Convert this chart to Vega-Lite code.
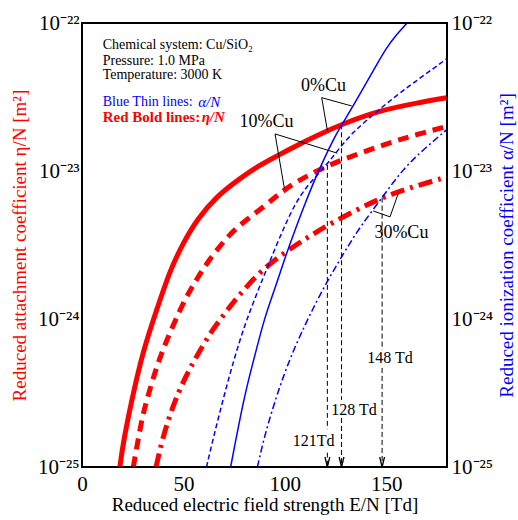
{
  "$schema": "https://vega.github.io/schema/vega-lite/v6.json",
  "width": 365,
  "height": 444,
  "autosize": {"type": "none"},
  "padding": {"left": 82, "top": 23, "right": 71, "bottom": 53},
  "background": "white",
  "config": {
    "font": "Liberation Serif",
    "view": {"stroke": "black", "strokeWidth": 2},
    "axis": {"domain": false, "grid": false, "ticks": false, "labelColor": "black", "labelFont": "Liberation Serif", "titleFont": "Liberation Serif", "titleFontWeight": "normal", "titleColor": "black"}
  },
  "datasets": {
    "curves": [
      {"s": "eta0", "x": 18.7, "y": 1.0e-25}, {"s": "eta0", "x": 20, "y": 1.38e-25}, {"s": "eta0", "x": 24.5, "y": 2.84e-25}, {"s": "eta0", "x": 30.2, "y": 6.17e-25}, {"s": "eta0", "x": 36.8, "y": 1.15e-24}, {"s": "eta0", "x": 43.4, "y": 2.14e-24}, {"s": "eta0", "x": 49.8, "y": 3.24e-24}, {"s": "eta0", "x": 56.6, "y": 4.68e-24}, {"s": "eta0", "x": 66.4, "y": 6.76e-24}, {"s": "eta0", "x": 77.9, "y": 8.91e-24}, {"s": "eta0", "x": 87.8, "y": 1.10e-23}, {"s": "eta0", "x": 96, "y": 1.26e-23}, {"s": "eta0", "x": 104.2, "y": 1.45e-23}, {"s": "eta0", "x": 116, "y": 1.74e-23}, {"s": "eta0", "x": 128, "y": 2.07e-23}, {"s": "eta0", "x": 147, "y": 2.57e-23}, {"s": "eta0", "x": 165, "y": 2.88e-23}, {"s": "eta0", "x": 180, "y": 3.13e-23},
      {"s": "eta10", "x": 25.3, "y": 1.0e-25}, {"s": "eta10", "x": 29.4, "y": 2.09e-25}, {"s": "eta10", "x": 31.9, "y": 2.82e-25}, {"s": "eta10", "x": 36.8, "y": 4.79e-25}, {"s": "eta10", "x": 41.8, "y": 7.24e-25}, {"s": "eta10", "x": 50, "y": 1.30e-24}, {"s": "eta10", "x": 54.9, "y": 1.70e-24}, {"s": "eta10", "x": 61.5, "y": 2.40e-24}, {"s": "eta10", "x": 73, "y": 3.80e-24}, {"s": "eta10", "x": 81.2, "y": 4.68e-24}, {"s": "eta10", "x": 90.6, "y": 5.89e-24}, {"s": "eta10", "x": 97.6, "y": 7.08e-24}, {"s": "eta10", "x": 105.9, "y": 8.51e-24}, {"s": "eta10", "x": 121, "y": 1.09e-23}, {"s": "eta10", "x": 137, "y": 1.32e-23}, {"s": "eta10", "x": 153.5, "y": 1.58e-23}, {"s": "eta10", "x": 166, "y": 1.78e-23}, {"s": "eta10", "x": 180, "y": 2.0e-23},
      {"s": "eta30", "x": 36.5, "y": 1.0e-25}, {"s": "eta30", "x": 40, "y": 1.62e-25}, {"s": "eta30", "x": 45, "y": 2.63e-25}, {"s": "eta30", "x": 50, "y": 3.80e-25}, {"s": "eta30", "x": 55, "y": 5.13e-25}, {"s": "eta30", "x": 60, "y": 6.76e-25}, {"s": "eta30", "x": 65, "y": 8.71e-25}, {"s": "eta30", "x": 70, "y": 1.07e-24}, {"s": "eta30", "x": 75, "y": 1.32e-24}, {"s": "eta30", "x": 80, "y": 1.58e-24}, {"s": "eta30", "x": 87.8, "y": 2.09e-24}, {"s": "eta30", "x": 100, "y": 2.82e-24}, {"s": "eta30", "x": 110, "y": 3.47e-24}, {"s": "eta30", "x": 120, "y": 4.22e-24}, {"s": "eta30", "x": 135, "y": 5.43e-24}, {"s": "eta30", "x": 148, "y": 6.61e-24}, {"s": "eta30", "x": 160, "y": 7.59e-24}, {"s": "eta30", "x": 180, "y": 9.12e-24},
      {"s": "alpha0", "x": 73.3, "y": 1.0e-25}, {"s": "alpha0", "x": 80, "y": 3.02e-25}, {"s": "alpha0", "x": 85, "y": 5.50e-25}, {"s": "alpha0", "x": 90, "y": 1.02e-24}, {"s": "alpha0", "x": 95, "y": 1.58e-24}, {"s": "alpha0", "x": 100, "y": 2.57e-24}, {"s": "alpha0", "x": 105, "y": 3.98e-24}, {"s": "alpha0", "x": 110, "y": 6.03e-24}, {"s": "alpha0", "x": 115, "y": 8.91e-24}, {"s": "alpha0", "x": 120, "y": 1.26e-23}, {"s": "alpha0", "x": 125, "y": 1.74e-23}, {"s": "alpha0", "x": 128.5, "y": 2.09e-23}, {"s": "alpha0", "x": 135, "y": 2.95e-23}, {"s": "alpha0", "x": 140, "y": 3.89e-23}, {"s": "alpha0", "x": 145, "y": 5.13e-23}, {"s": "alpha0", "x": 150, "y": 6.76e-23}, {"s": "alpha0", "x": 155, "y": 8.32e-23}, {"s": "alpha0", "x": 160.3, "y": 1.0e-22},
      {"s": "alpha10", "x": 61.4, "y": 1.0e-25}, {"s": "alpha10", "x": 65, "y": 1.62e-25}, {"s": "alpha10", "x": 70, "y": 3.02e-25}, {"s": "alpha10", "x": 75, "y": 5.37e-25}, {"s": "alpha10", "x": 80, "y": 8.91e-25}, {"s": "alpha10", "x": 85, "y": 1.35e-24}, {"s": "alpha10", "x": 90, "y": 2.0e-24}, {"s": "alpha10", "x": 95, "y": 2.95e-24}, {"s": "alpha10", "x": 100, "y": 4.27e-24}, {"s": "alpha10", "x": 105, "y": 5.96e-24}, {"s": "alpha10", "x": 110, "y": 7.59e-24}, {"s": "alpha10", "x": 115, "y": 9.12e-24}, {"s": "alpha10", "x": 121, "y": 1.11e-23}, {"s": "alpha10", "x": 130.5, "y": 1.66e-23}, {"s": "alpha10", "x": 140, "y": 2.19e-23}, {"s": "alpha10", "x": 155, "y": 3.24e-23}, {"s": "alpha10", "x": 167, "y": 4.27e-23}, {"s": "alpha10", "x": 180, "y": 5.75e-23},
      {"s": "alpha30", "x": 86.5, "y": 1.0e-25}, {"s": "alpha30", "x": 90, "y": 1.62e-25}, {"s": "alpha30", "x": 95, "y": 2.75e-25}, {"s": "alpha30", "x": 100, "y": 4.37e-25}, {"s": "alpha30", "x": 105, "y": 6.46e-25}, {"s": "alpha30", "x": 110, "y": 9.12e-25}, {"s": "alpha30", "x": 115, "y": 1.26e-24}, {"s": "alpha30", "x": 120, "y": 1.70e-24}, {"s": "alpha30", "x": 125, "y": 2.24e-24}, {"s": "alpha30", "x": 130, "y": 2.92e-24}, {"s": "alpha30", "x": 137, "y": 4.17e-24}, {"s": "alpha30", "x": 148, "y": 6.61e-24}, {"s": "alpha30", "x": 158, "y": 1.02e-23}, {"s": "alpha30", "x": 168, "y": 1.38e-23}, {"s": "alpha30", "x": 180, "y": 1.91e-23}
    ],
    "xt": [
      {"v": 10, "m": 0}, {"v": 20, "m": 0}, {"v": 30, "m": 0}, {"v": 40, "m": 0}, {"v": 50, "m": 1}, {"v": 60, "m": 0}, {"v": 70, "m": 0}, {"v": 80, "m": 0}, {"v": 90, "m": 0},
      {"v": 100, "m": 1}, {"v": 110, "m": 0}, {"v": 120, "m": 0}, {"v": 130, "m": 0}, {"v": 140, "m": 0}, {"v": 150, "m": 1}, {"v": 160, "m": 0}, {"v": 170, "m": 0}
    ],
    "yt": [
      {"v": 2e-25, "m": 0}, {"v": 3e-25, "m": 0}, {"v": 4e-25, "m": 0}, {"v": 5e-25, "m": 0}, {"v": 6e-25, "m": 0}, {"v": 7e-25, "m": 0}, {"v": 8e-25, "m": 0}, {"v": 9e-25, "m": 0},
      {"v": 1e-24, "m": 1}, {"v": 2e-24, "m": 0}, {"v": 3e-24, "m": 0}, {"v": 4e-24, "m": 0}, {"v": 5e-24, "m": 0}, {"v": 6e-24, "m": 0}, {"v": 7e-24, "m": 0}, {"v": 8e-24, "m": 0}, {"v": 9e-24, "m": 0},
      {"v": 1e-23, "m": 1}, {"v": 2e-23, "m": 0}, {"v": 3e-23, "m": 0}, {"v": 4e-23, "m": 0}, {"v": 5e-23, "m": 0}, {"v": 6e-23, "m": 0}, {"v": 7e-23, "m": 0}, {"v": 8e-23, "m": 0}, {"v": 9e-23, "m": 0}
    ],
    "frame": [
      {"side": "b", "x": 0, "x2": 180, "y": 1e-25, "y2": 1e-25},
      {"side": "t", "x": 0, "x2": 180, "y": 1e-22, "y2": 1e-22},
      {"side": "l", "x": 0, "x2": 0, "y": 1e-25, "y2": 1e-22},
      {"side": "r", "x": 180, "x2": 180, "y": 1e-25, "y2": 1e-22}
    ],
    "vlines": [
      {"x": 121, "y": 1.10e-23, "y2": 1.8e-25}, {"x": 121, "y": 1.25e-25, "y2": 1.0e-25},
      {"x": 128, "y": 2.07e-23, "y2": 2.84e-25}, {"x": 128, "y": 2.14e-25, "y2": 1.0e-25},
      {"x": 148, "y": 6.61e-24, "y2": 6.18e-25}, {"x": 148, "y": 4.67e-25, "y2": 1.0e-25}
    ],
    "arrows": [{"x": 121, "y": 1.0e-25}, {"x": 128, "y": 1.0e-25}, {"x": 148, "y": 1.0e-25}],
    "leaders": [
      {"g": "a", "o": 1, "x": 121, "y": 1.88e-23}, {"g": "a", "o": 2, "x": 118.2, "y": 3.13e-23}, {"g": "a", "o": 3, "x": 133, "y": 2.75e-23},
      {"g": "b", "o": 1, "x": 99.8, "y": 7.64e-24}, {"g": "b", "o": 2, "x": 95.2, "y": 1.78e-23}, {"g": "b", "o": 3, "x": 125.9, "y": 1.32e-23},
      {"g": "c", "o": 1, "x": 156, "y": 7.08e-24}, {"g": "c", "o": 2, "x": 151.9, "y": 4.90e-24}, {"g": "c", "o": 3, "x": 143.6, "y": 5.37e-24}
    ],
    "cu": [
      {"label": "0%Cu", "x": 119.1, "y": 3.75e-23},
      {"label": "10%Cu", "x": 91, "y": 2.15e-23},
      {"label": "30%Cu", "x": 157.5, "y": 3.83e-24}
    ],
    "td": [
      {"label": "148 Td", "x": 151.9, "y": 5.45e-25},
      {"label": "128 Td", "x": 134.1, "y": 2.43e-25},
      {"label": "121Td", "x": 114.2, "y": 1.5e-25}
    ],
    "info": [
      {"k": "black", "text": "Chemical system: Cu/SiO₂", "x": 10.2, "y": 7.10e-23},
      {"k": "black", "text": "Pressure: 1.0 MPa", "x": 10.2, "y": 5.56e-23},
      {"k": "black", "text": "Temperature: 3000 K", "x": 10.2, "y": 4.46e-23},
      {"k": "blue", "text": "Blue Thin lines:", "x": 10.2, "y": 2.94e-23},
      {"k": "blueI", "text": "α/N", "x": 57.3, "y": 2.94e-23},
      {"k": "red", "text": "Red Bold lines:", "x": 10.2, "y": 2.33e-23},
      {"k": "redI", "text": "η/N", "x": 59.0, "y": 2.33e-23}
    ]
  },
  "encoding": {
    "x": {"field": "x", "type": "quantitative", "scale": {"domain": [0, 180], "nice": false, "zero": false}, "axis": null},
    "y": {"field": "y", "type": "quantitative", "scale": {"type": "log", "domain": [1e-25, 1e-22], "nice": false}, "axis": null}
  },
  "layer": [
    {
      "data": {"name": "curves"},
      "transform": [{"filter": "datum.s === 'eta0'"}],
      "mark": {"type": "line", "color": "#ff0000", "strokeWidth": 5, "interpolate": "basis", "clip": true},
      "encoding": {
        "x": {"field": "x", "type": "quantitative", "scale": {"domain": [0, 180], "nice": false, "zero": false},
          "axis": {"orient": "bottom", "values": [0, 50, 100, 150], "labelFlush": false, "labelFontSize": 21, "labelPadding": 6, "format": "d",
            "title": "Reduced electric field strength  E/N [Td]", "titleFontSize": 19, "titlePadding": 1}},
        "y": {"field": "y", "type": "quantitative", "scale": {"type": "log", "domain": [1e-25, 1e-22], "nice": false},
          "axis": {"orient": "left", "values": [1e-25, 1e-24, 1e-23, 1e-22], "labelFlush": false, "labelFontSize": 21, "labelPadding": 3,
            "labelExpr": "datum.value < 5e-25 ? '10⁻²⁵' : datum.value < 5e-24 ? '10⁻²⁴' : datum.value < 5e-23 ? '10⁻²³' : '10⁻²²'",
            "title": "Reduced attachment coefficient  η/N [m²]", "titleColor": "#ff0000", "titleFontSize": 19, "titlePadding": 8}}
      }
    },
    {
      "data": {"name": "curves"},
      "transform": [{"filter": "datum.s === 'eta10'"}],
      "mark": {"type": "line", "color": "#ff0000", "strokeWidth": 5, "strokeDash": [11, 7], "interpolate": "basis", "clip": true}
    },
    {
      "data": {"name": "curves"},
      "transform": [{"filter": "datum.s === 'eta30'"}],
      "mark": {"type": "line", "color": "#ff0000", "strokeWidth": 5, "strokeDash": [14, 6, 3, 6], "interpolate": "basis", "clip": true}
    },
    {
      "data": {"name": "curves"},
      "transform": [{"filter": "datum.s === 'alpha0'"}],
      "mark": {"type": "line", "color": "#0000ff", "strokeWidth": 1.5, "interpolate": "basis", "clip": true},
      "encoding": {
        "y": {"field": "y", "type": "quantitative", "scale": {"type": "log", "domain": [1e-25, 1e-22], "nice": false},
          "axis": {"orient": "right", "values": [1e-25, 1e-24, 1e-23, 1e-22], "labelFlush": false, "labelFontSize": 21, "labelPadding": 4,
            "labelExpr": "datum.value < 5e-25 ? '10⁻²⁵' : datum.value < 5e-24 ? '10⁻²⁴' : datum.value < 5e-23 ? '10⁻²³' : '10⁻²²'",
            "title": "Reduced ionization coefficient  α/N [m²]", "titleColor": "#0000ff", "titleFontSize": 19, "titlePadding": 5, "titleAngle": 270, "titleBaseline": "top"}}
      }
    },
    {
      "data": {"name": "curves"},
      "transform": [{"filter": "datum.s === 'alpha10'"}],
      "mark": {"type": "line", "color": "#0000ff", "strokeWidth": 1.5, "strokeDash": [5, 3], "interpolate": "basis", "clip": true}
    },
    {
      "data": {"name": "curves"},
      "transform": [{"filter": "datum.s === 'alpha30'"}],
      "mark": {"type": "line", "color": "#0000ff", "strokeWidth": 1.5, "strokeDash": [7, 3, 2, 3], "interpolate": "basis", "clip": true}
    },
    {
      "data": {"name": "frame"}, "transform": [{"filter": "datum.side === 'b'"}],
      "mark": {"type": "rule", "stroke": "black", "strokeWidth": 1},
      "encoding": {"x2": {"field": "x2"}, "y2": {"field": "y2"}}
    },
    {
      "data": {"name": "frame"}, "transform": [{"filter": "datum.side === 't'"}],
      "mark": {"type": "rule", "color": "black", "strokeWidth": 2, "strokeDash": [2000, 1]},
      "encoding": {"x2": {"field": "x2"}, "y2": {"field": "y2"}}
    },
    {
      "data": {"name": "frame"}, "transform": [{"filter": "datum.side === 'l'"}],
      "mark": {"type": "rule", "stroke": "#000000", "strokeWidth": 2},
      "encoding": {"x2": {"field": "x2"}, "y2": {"field": "y2"}}
    },
    {
      "data": {"name": "frame"}, "transform": [{"filter": "datum.side === 'r'"}],
      "mark": {"type": "rule", "color": "black", "strokeWidth": 1, "strokeDash": [2000, 1]},
      "encoding": {"x2": {"field": "x2"}, "y2": {"field": "y2"}}
    },
    {
      "data": {"name": "xt"}, "transform": [{"filter": "datum.m === 1"}],
      "mark": {"type": "rule", "color": "black", "strokeWidth": 1, "y2Offset": -12},
      "encoding": {"x": {"field": "v", "type": "quantitative", "axis": null}, "y": {"datum": 1e-25, "type": "quantitative", "axis": null}, "y2": {"datum": 1e-25}}
    },
    {
      "data": {"name": "xt"}, "transform": [{"filter": "datum.m === 0"}],
      "mark": {"type": "rule", "color": "black", "strokeWidth": 1, "y2Offset": -7},
      "encoding": {"x": {"field": "v", "type": "quantitative", "axis": null}, "y": {"datum": 1e-25, "type": "quantitative", "axis": null}, "y2": {"datum": 1e-25}}
    },
    {
      "data": {"name": "xt"}, "transform": [{"filter": "datum.m === 1"}],
      "mark": {"type": "rule", "color": "black", "strokeWidth": 2, "strokeDash": [100, 1], "y2Offset": 12},
      "encoding": {"x": {"field": "v", "type": "quantitative", "axis": null}, "y": {"datum": 1e-22, "type": "quantitative", "axis": null}, "y2": {"datum": 1e-22}}
    },
    {
      "data": {"name": "xt"}, "transform": [{"filter": "datum.m === 0"}],
      "mark": {"type": "rule", "color": "black", "strokeWidth": 1.5, "strokeDash": [100, 1], "y2Offset": 7},
      "encoding": {"x": {"field": "v", "type": "quantitative", "axis": null}, "y": {"datum": 1e-22, "type": "quantitative", "axis": null}, "y2": {"datum": 1e-22}}
    },
    {
      "data": {"name": "yt"}, "transform": [{"filter": "datum.m === 1"}],
      "mark": {"type": "rule", "stroke": "#000000", "strokeWidth": 2, "x2Offset": 14},
      "encoding": {"y": {"field": "v", "type": "quantitative", "axis": null}, "x": {"datum": 0, "type": "quantitative", "axis": null}, "x2": {"datum": 0}}
    },
    {
      "data": {"name": "yt"}, "transform": [{"filter": "datum.m === 0"}],
      "mark": {"type": "rule", "stroke": "#000000", "strokeWidth": 1.5, "x2Offset": 7},
      "encoding": {"y": {"field": "v", "type": "quantitative", "axis": null}, "x": {"datum": 0, "type": "quantitative", "axis": null}, "x2": {"datum": 0}}
    },
    {
      "data": {"name": "yt"}, "transform": [{"filter": "datum.m === 1"}],
      "mark": {"type": "rule", "color": "black", "strokeWidth": 1, "strokeDash": [100, 1], "x2Offset": -14},
      "encoding": {"y": {"field": "v", "type": "quantitative", "axis": null}, "x": {"datum": 180, "type": "quantitative", "axis": null}, "x2": {"datum": 180}}
    },
    {
      "data": {"name": "yt"}, "transform": [{"filter": "datum.m === 0"}],
      "mark": {"type": "rule", "color": "black", "strokeWidth": 1, "strokeDash": [100, 1], "x2Offset": -7},
      "encoding": {"y": {"field": "v", "type": "quantitative", "axis": null}, "x": {"datum": 180, "type": "quantitative", "axis": null}, "x2": {"datum": 180}}
    },
    {
      "data": {"name": "vlines"},
      "mark": {"type": "rule", "color": "black", "strokeWidth": 1, "strokeDash": [5, 3]},
      "encoding": {"y2": {"field": "y2"}}
    },
    {
      "data": {"name": "arrows"},
      "mark": {"type": "point", "shape": "M-0.3,-1.25L0,0L0.3,-1.25", "filled": false, "stroke": "black", "strokeWidth": 1.3, "size": 256, "opacity": 1}
    },
    {
      "data": {"name": "leaders"},
      "mark": {"type": "line", "color": "black", "strokeWidth": 1},
      "encoding": {"detail": {"field": "g"}, "order": {"field": "o"}}
    },
    {
      "data": {"name": "cu"},
      "mark": {"type": "text", "fontSize": 18, "font": "Liberation Serif", "color": "black", "align": "center", "baseline": "middle"},
      "encoding": {"text": {"field": "label"}}
    },
    {
      "data": {"name": "td"},
      "mark": {"type": "text", "fontSize": 16, "font": "Liberation Serif", "color": "black", "align": "center", "baseline": "middle"},
      "encoding": {"text": {"field": "label"}}
    },
    {
      "data": {"name": "info"},
      "transform": [{"filter": "datum.k === 'black'"}],
      "mark": {"type": "text", "fontSize": 14, "font": "Liberation Serif", "color": "black", "align": "left", "baseline": "middle"},
      "encoding": {"text": {"field": "text"}}
    },
    {
      "data": {"name": "info"},
      "transform": [{"filter": "datum.k === 'blue'"}],
      "mark": {"type": "text", "fontSize": 14, "font": "Liberation Serif", "color": "#0000ff", "align": "left", "baseline": "middle"},
      "encoding": {"text": {"field": "text"}}
    },
    {
      "data": {"name": "info"},
      "transform": [{"filter": "datum.k === 'blueI'"}],
      "mark": {"type": "text", "fontSize": 15, "font": "Liberation Serif", "fontStyle": "italic", "color": "#0000ff", "align": "left", "baseline": "middle"},
      "encoding": {"text": {"field": "text"}}
    },
    {
      "data": {"name": "info"},
      "transform": [{"filter": "datum.k === 'red'"}],
      "mark": {"type": "text", "fontSize": 15, "font": "Liberation Serif", "fontWeight": "bold", "color": "#ff0000", "align": "left", "baseline": "middle"},
      "encoding": {"text": {"field": "text"}}
    },
    {
      "data": {"name": "info"},
      "transform": [{"filter": "datum.k === 'redI'"}],
      "mark": {"type": "text", "fontSize": 15, "font": "Liberation Serif", "fontWeight": "bold", "fontStyle": "italic", "color": "#ff0000", "align": "left", "baseline": "middle"},
      "encoding": {"text": {"field": "text"}}
    }
  ],
  "resolve": {"scale": {"x": "shared", "y": "shared"}, "axis": {"x": "independent", "y": "independent"}}
}
